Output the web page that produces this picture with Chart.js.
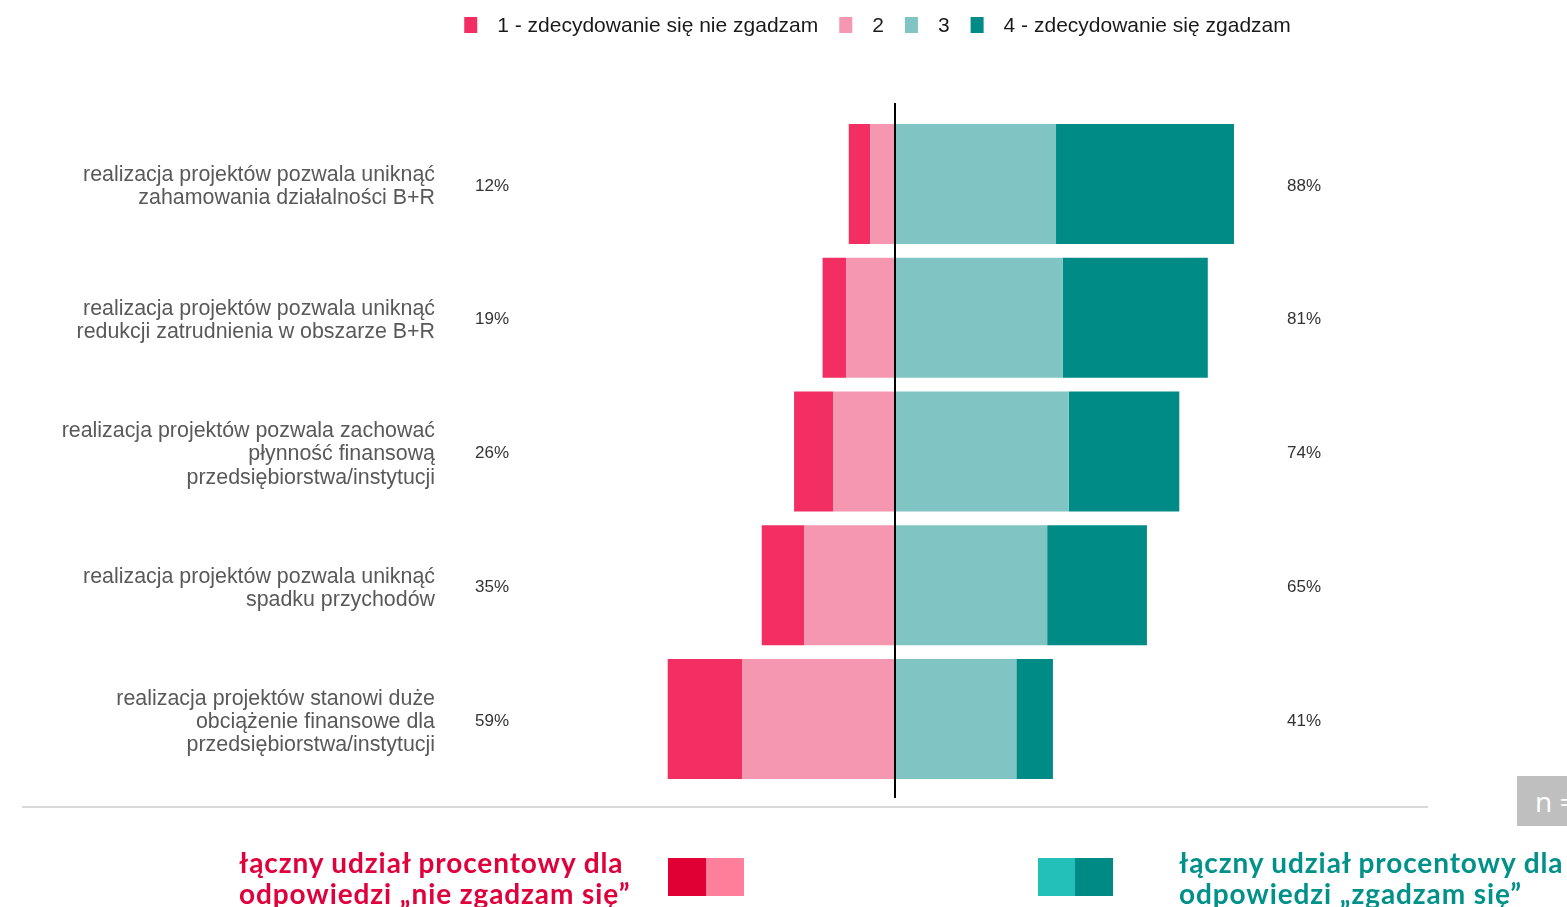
<!DOCTYPE html>
<html>
<head>
<meta charset="utf-8">
<script src="https://cdn.jsdelivr.net/npm/chart.js@4.4.1/dist/chart.umd.min.js"></script>
<style>
  html,body{margin:0;padding:0;background:#fff;overflow:hidden;}
  #wrap{position:relative;width:1567px;height:907px;}
  #c{position:absolute;left:0;top:0;}
  .sep{position:absolute;left:22px;top:806px;width:1406px;height:2px;background:#d9d9d9;}
  .nbox{position:absolute;left:1517px;top:776px;width:60px;height:50px;background:#bfbfbf;color:#fff;
        font:28px "Open Sans",sans-serif;line-height:50px;padding-left:18px;box-sizing:border-box;white-space:nowrap;overflow:hidden;}
  .foot{position:absolute;font-family:Lato,"Open Sans",sans-serif;font-weight:700;font-size:28px;letter-spacing:0.9px;line-height:31px;white-space:nowrap;}
  .sw{position:absolute;width:38px;height:38px;}
</style>
</head>
<body>
<div id="wrap">
  <canvas id="c" width="1567" height="907"></canvas>
  <div class="sep"></div>
  <div class="nbox">n =</div>
  <div class="foot" style="left:239px;top:847px;color:#e0003c;">łączny udział procentowy dla<br>odpowiedzi „nie zgadzam się”</div>
  <div class="sw" style="left:668px;top:858px;background:#e00034;"></div>
  <div class="sw" style="left:706px;top:858px;background:#ff7f9b;"></div>
  <div class="sw" style="left:1038px;top:858px;background:#22c0b8;"></div>
  <div class="sw" style="left:1075px;top:858px;background:#008a86;"></div>
  <div class="foot" style="left:1179px;top:847px;color:#00918b;">łączny udział procentowy dla<br>odpowiedzi „zgadzam się”</div>
</div>
<script>
const categories = [
  ['realizacja projektów pozwala uniknąć', 'zahamowania działalności B+R'],
  ['realizacja projektów pozwala uniknąć', 'redukcji zatrudnienia w obszarze B+R'],
  ['realizacja projektów pozwala zachować', 'płynność finansową', 'przedsiębiorstwa/instytucji'],
  ['realizacja projektów pozwala uniknąć', 'spadku przychodów'],
  ['realizacja projektów stanowi duże', 'obciążenie finansowe dla', 'przedsiębiorstwa/instytucji']
];
const seriesNames = ['1 - zdecydowanie się nie zgadzam', '2', '3', '4 - zdecydowanie się zgadzam'];
const stronglyDisagree = [5.6, 6.1, 10.2, 11.1, 19.4];
const disagree        = [6.4, 12.7, 16.0, 23.5, 39.6];
const agree           = [41.8, 43.5, 45.1, 39.5, 31.5];
const stronglyAgree   = [46.2, 37.7, 28.7, 25.9, 9.5];
const disagreeTotals  = ['12%', '19%', '26%', '35%', '59%'];
const agreeTotals     = ['88%', '81%', '74%', '65%', '41%'];

const colors = ['#f22e62', '#f597b1', '#80c4c4', '#008b87'];
const FONT = '"Liberation Sans", Arial, sans-serif';

const topLegend = {
  id: 'topLegend',
  afterDraw(chart) {
    const ctx = chart.ctx;
    ctx.save();
    ctx.font = '21px ' + FONT;
    ctx.textBaseline = 'middle';
    const box = 13, gapTxt = 20, gapItem = 21;
    let total = 0;
    seriesNames.forEach((n, i) => {
      total += box + gapTxt + ctx.measureText(n).width + (i < seriesNames.length - 1 ? gapItem : 0);
    });
    let x = 877.5 - total / 2;
    const y = 25;
    seriesNames.forEach((n, i) => {
      ctx.fillStyle = colors[i];
      ctx.fillRect(x, y - 8, box, 16);
      x += box + gapTxt;
      ctx.fillStyle = '#1a1a1a';
      ctx.fillText(n, x, y + 1);
      x += ctx.measureText(n).width + gapItem;
    });
    ctx.restore();
  }
};

const extras = {
  id: 'extras',
  afterDatasetsDraw(chart) {
    const ctx = chart.ctx;
    const xs = chart.scales.x, ys = chart.scales.y;
    const ca = chart.chartArea;
    ctx.save();
    const x0 = Math.round(xs.getPixelForValue(0));
    ctx.strokeStyle = '#000';
    ctx.lineWidth = 2;
    ctx.beginPath();
    ctx.moveTo(x0, ca.top - 14);
    ctx.lineTo(x0, ca.bottom + 12);
    ctx.stroke();
    ctx.font = '17px ' + FONT;
    ctx.fillStyle = '#333';
    ctx.textBaseline = 'middle';
    ctx.textAlign = 'left';
    categories.forEach((c, i) => {
      const y = ys.getPixelForValue(i) + 2;
      ctx.fillText(disagreeTotals[i], ca.left + 23, y);
      ctx.fillText(agreeTotals[i], ca.right - 51, y);
    });
    ctx.restore();
  }
};

new Chart(document.getElementById('c'), {
  type: 'bar',
  data: {
    labels: categories,
    datasets: [
      { label: seriesNames[1], data: disagree.map(v => -v), backgroundColor: colors[1] },
      { label: seriesNames[0], data: stronglyDisagree.map(v => -v), backgroundColor: colors[0] },
      { label: seriesNames[2], data: agree, backgroundColor: colors[2] },
      { label: seriesNames[3], data: stronglyAgree, backgroundColor: colors[3] }
    ]
  },
  options: {
    indexAxis: 'y',
    responsive: false,
    animation: false,
    devicePixelRatio: 1,
    layout: { padding: { top: 117, bottom: 121, right: 229, left: 0 } },
    datasets: { bar: { categoryPercentage: 1, barPercentage: 0.897, borderWidth: 0 } },
    scales: {
      x: { stacked: true, min: -115, max: 115, display: false },
      y: {
        stacked: true,
        grid: { display: false, drawTicks: false },
        border: { display: false },
        ticks: { padding: 17, labelOffset: 3, color: '#595959', font: { family: FONT, size: 21.4, lineHeight: 1.08 } },
        afterFit(s) { s.width = 452; }
      }
    },
    plugins: { legend: { display: false }, tooltip: { enabled: false } }
  },
  plugins: [topLegend, extras]
});
</script>
</body>
</html>
